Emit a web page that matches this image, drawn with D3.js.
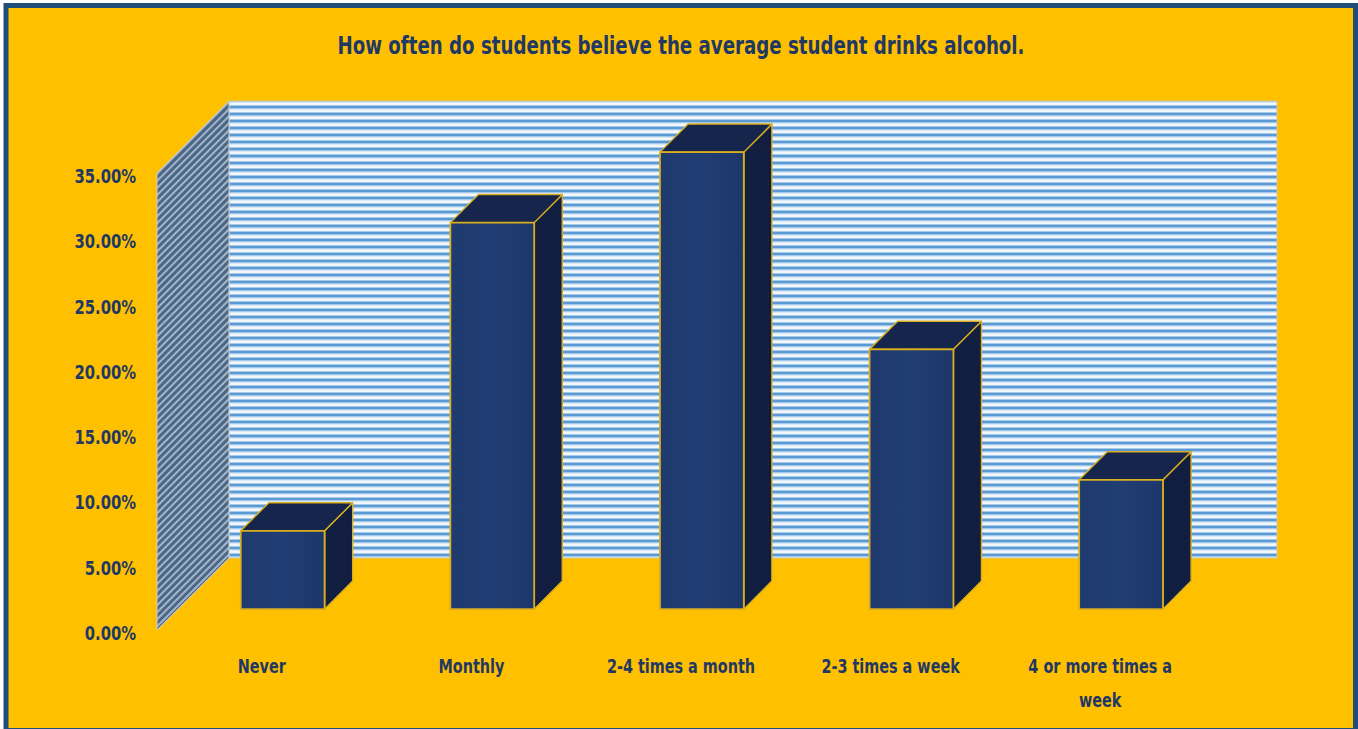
<!DOCTYPE html>
<html>
<head>
<meta charset="utf-8">
<script src="https://cdn.jsdelivr.net/npm/d3@7"></script>
<style>
  html, body { margin: 0; padding: 0; background: #ffffff; }
  svg { display: block; }
  .lbl { font-family: "Liberation Sans Narrow", "DejaVu Sans Condensed", "Arial Narrow", sans-serif; font-weight: bold; fill: #1F3864; }
</style>
</head>
<body>
<svg id="chart" width="1358" height="729"></svg>
<script>
// Survey answers and shares of respondents
const categories = ["Never", "Monthly", "2-4 times a month", "2-3 times a week", "4 or more times a week"];
const categoryLines = [["Never"], ["Monthly"], ["2-4 times a month"], ["2-3 times a week"], ["4 or more times a", "week"]];
const shares = [0.060, 0.296, 0.350, 0.199, 0.099];
const tickValues = [0, 0.05, 0.10, 0.15, 0.20, 0.25, 0.30, 0.35];
const title = "How often do students believe the average student drinks alcohol.";

const W = 1358, H = 729;
const svg = d3.select("#chart");

// narrow a text element horizontally so it reads like a condensed face
function condense(sel, k) {
  sel.each(function () {
    const len = this.getComputedTextLength();
    d3.select(this).attr("textLength", len * k).attr("lengthAdjust", "spacingAndGlyphs");
  });
}

// 3D box geometry: front plane of the plot and the depth vector
const depth = 72;              // px along the 45° receding axis
const barFront = 0.29, barBack = 0.68;   // bar position in the depth (0 = front, 1 = back wall)

const x = d3.scaleBand().domain(categories).range([157, 1205]).paddingInner(0.6).paddingOuter(0.3);
const y = d3.scaleLinear().domain([0, 0.35]).range([630, 173]);

// project a point (front-plane x, value, depth fraction) to the screen
const P = (px, v, d) => [px + depth * d, y(v) - depth * d];

// frame
svg.append("rect").attr("x", 6).attr("y", 5.5).attr("width", 1349.5).attr("height", 725)
  .attr("fill", "#FFC000").attr("stroke", "#1F4E79").attr("stroke-width", 5);

// wall fills
const defs = svg.append("defs");
const hp = defs.append("pattern").attr("id", "hstripe").attr("patternUnits", "userSpaceOnUse")
  .attr("width", 8).attr("height", 7);
hp.append("rect").attr("width", 8).attr("height", 7).attr("fill", "#F2F7FC");
hp.append("rect").attr("y", 0.5).attr("width", 8).attr("height", 3).attr("fill", "#5B9BD5");
hp.append("rect").attr("y", 3.5).attr("width", 8).attr("height", 0.8).attr("fill", "#A3C7E8");

const dp = defs.append("pattern").attr("id", "dstripe").attr("patternUnits", "userSpaceOnUse")
  .attr("width", 5).attr("height", 10).attr("patternTransform", "rotate(45)");
dp.append("rect").attr("width", 5).attr("height", 10).attr("fill", "#A2B6CB");
dp.append("rect").attr("x", 0).attr("width", 3).attr("height", 10).attr("fill", "#4C6686");

const x0 = x.range()[0], x1 = x.range()[1];
const vMax = y.domain()[1];

// back wall
const bw = [P(x0, vMax, 1), P(x1, vMax, 1), P(x1, 0, 1), P(x0, 0, 1)];
svg.append("polygon").attr("points", bw.map(p => p.join(",")).join(" "))
  .attr("fill", "url(#hstripe)").attr("stroke", "#CFC7A8").attr("stroke-width", 1);

// side wall
const sw = [P(x0, vMax, 0), P(x0, vMax, 1), P(x0, 0, 1), P(x0, 0, 0)];
svg.append("polygon").attr("points", sw.map(p => p.join(",")).join(" "))
  .attr("fill", "url(#dstripe)").attr("stroke", "#C9CDD3").attr("stroke-width", 1);

// front-face shading
const fg = defs.append("linearGradient").attr("id", "frontGrad").attr("x1", 0).attr("x2", 1).attr("y1", 0).attr("y2", 0);
fg.append("stop").attr("offset", 0).attr("stop-color", "#1E3A6E");
fg.append("stop").attr("offset", 0.5).attr("stop-color", "#213E74");
fg.append("stop").attr("offset", 1).attr("stop-color", "#1C366A");

const gold = "#D9AE1F";
const bars = svg.append("g");
categories.forEach((c, i) => {
  const v = shares[i];
  const xl = x(c), xr = x(c) + x.bandwidth();
  const fTL = P(xl, v, barFront), fTR = P(xr, v, barFront), fBR = P(xr, 0, barFront), fBL = P(xl, 0, barFront);
  const bTL = P(xl, v, barBack), bTR = P(xr, v, barBack), bBR = P(xr, 0, barBack);
  const g = bars.append("g");
  // right side
  g.append("polygon").attr("points", [fTR, bTR, bBR, fBR].map(p => p.join(",")).join(" "))
    .attr("fill", "#121E40").attr("stroke", gold).attr("stroke-width", 1.4).attr("stroke-linejoin", "round");
  // top
  g.append("polygon").attr("points", [fTL, bTL, bTR, fTR].map(p => p.join(",")).join(" "))
    .attr("fill", "#15254B").attr("stroke", gold).attr("stroke-width", 1.4).attr("stroke-linejoin", "round");
  // front
  g.append("polygon").attr("points", [fTL, fTR, fBR, fBL].map(p => p.join(",")).join(" "))
    .attr("fill", "url(#frontGrad)").attr("stroke", gold).attr("stroke-width", 1.8).attr("stroke-linejoin", "round");
});

// value axis labels
const fmt = d3.format(".2%");
svg.append("g").selectAll("text").data(tickValues).join("text")
  .attr("class", "lbl")
  .attr("x", 136).attr("y", d => y(d) + 10)
  .attr("text-anchor", "end").attr("font-size", 20)
  .text(d => fmt(d))
  .call(condense, 0.82);

// category labels, centred under each slot on the front plane
const cat = svg.append("g");
categories.forEach((c, i) => {
  const cx = x(c) + x.bandwidth() / 2;
  categoryLines[i].forEach((line, j) => {
    cat.append("text").attr("class", "lbl").attr("text-anchor", "middle").attr("font-size", 20)
      .attr("x", cx).attr("y", 673 + j * 34).text(line)
      .call(condense, 0.8);
  });
});

// title
svg.append("text").attr("class", "lbl").attr("x", 681).attr("y", 54)
  .attr("text-anchor", "middle").attr("font-size", 25)
  .attr("textLength", 687).attr("lengthAdjust", "spacingAndGlyphs")
  .text(title);
</script>
</body>
</html>
